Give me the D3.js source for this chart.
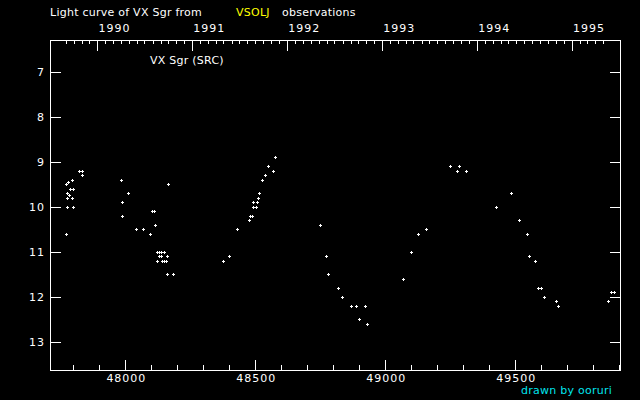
<!DOCTYPE html>
<html lang="en">
<head>
    <meta charset="UTF-8">
    <title>Light curve of VX Sgr</title>
    <style>
        body { margin: 0; background: #000; }
        svg { display: block; background: #000; }
        text { font-family: "DejaVu Sans", sans-serif; font-size: 11px; fill: #fff; letter-spacing: 0.25px; }
        text.num { letter-spacing: 1px; }
    </style>
    <script src="https://d3js.org/d3.v7.min.js"></script>
</head>
<body>
    <svg width="640" height="400"></svg>
    <script>
        // JD - 2400000 and visual magnitude
        const jd = [
            47822, 47834, 47835, 47796, 47771, 47778, 47800, 47788, 47777, 47785,
            47775, 47796, 47777, 47800, 47773,
            47985, 48012, 47988, 47988, 48042, 48069, 48096, 48102, 48109, 48115,
            48165, 48123, 48131, 48138, 48150, 48130, 48137, 48162, 48123, 48142,
            48150, 48158, 48162, 48185,
            48377, 48400, 48431, 48477, 48481, 48488, 48492, 48504, 48492, 48508,
            48512, 48515, 48527, 48538, 48569, 48550, 48577,
            48750, 48773, 48781, 48819, 48835, 48869, 48888, 48923, 48900, 48931,
            49069, 49100, 49127, 49158, 49250, 49285, 49277, 49312,
            49427, 49485, 49515, 49546, 49554, 49577, 49588, 49600, 49612, 49658,
            49665,
            49858, 49869, 49881
        ];
        const mag = [
            9.2, 9.2, 9.3, 9.4, 9.5, 9.45, 9.6, 9.6, 9.7, 9.75,
            9.8, 9.8, 10.0, 10.0, 10.6,
            9.4, 9.7, 9.9, 10.2, 10.5, 10.5, 10.6, 10.1, 10.1, 10.4,
            9.5, 11.0, 11.0, 11.0, 11.0, 11.1, 11.1, 11.1, 11.2, 11.2,
            11.2, 11.2, 11.5, 11.5,
            11.2, 11.1, 10.5, 10.3, 10.2, 10.2, 10.0, 10.0, 9.9, 9.9,
            9.8, 9.7, 9.4, 9.3, 9.2, 9.1, 8.9,
            10.4, 11.1, 11.5, 11.8, 12.0, 12.2, 12.2, 12.2, 12.5, 12.6,
            11.6, 11.0, 10.6, 10.5, 9.1, 9.1, 9.2, 9.2,
            10.0, 9.7, 10.3, 10.6, 11.1, 11.2, 11.8, 11.8, 12.0, 12.1,
            12.2,
            12.1, 11.9, 11.9
        ];
        const magTicks = [7, 8, 9, 10, 11, 12, 13];
        const jdTicks = [48000, 48500, 49000, 49500];
        const years = [1990, 1991, 1992, 1993, 1994, 1995];

        const svg = d3.select("svg");
        const m = { left: 50, right: 620, top: 40, bottom: 370 };

        const x = d3.scaleLinear().domain([47710, 49903]).range([m.left, m.right]);
        const y = d3.scaleLinear().domain([6.3, 13.63]).range([m.top, m.bottom]);

        // date -> JD - 2400000
        const toJD = d => d.getTime() / 86400000 + 40587.5;

        const g = svg.append("g").attr("shape-rendering", "crispEdges");

        g.append("rect")
            .attr("x", m.left + 0.5).attr("y", m.top + 0.5)
            .attr("width", m.right - m.left).attr("height", m.bottom - m.top)
            .attr("fill", "none").attr("stroke", "#fff");

        // bottom axis: minor every 100 days, major every 500
        const minorJD = d3.range(47800, 49901, 100);
        g.selectAll(".bx").data(minorJD).enter().append("line")
            .attr("x1", d => Math.round(x(d)) + 0.5).attr("x2", d => Math.round(x(d)) + 0.5)
            .attr("y1", m.bottom).attr("y2", d => d % 500 === 0 ? m.bottom - 10 : m.bottom - 5)
            .attr("stroke", "#fff");
        svg.selectAll(".bl").data(jdTicks).enter().append("text")
            .attr("class", "num")
            .attr("x", d => x(d) + 1).attr("y", 382)
            .attr("text-anchor", "middle")
            .text(d => d);

        // left and right magnitude ticks
        magTicks.forEach(t => {
            const yy = Math.round(y(t)) + 0.5;
            g.append("line").attr("x1", m.left).attr("x2", m.left + 11).attr("y1", yy).attr("y2", yy).attr("stroke", "#fff");
            g.append("line").attr("x1", m.right - 10).attr("x2", m.right).attr("y1", yy).attr("y2", yy).attr("stroke", "#fff");
        });
        svg.selectAll(".yl").data(magTicks).enter().append("text")
            .attr("class", "num")
            .attr("x", 45).attr("y", d => y(d) + 4)
            .attr("text-anchor", "end")
            .text(d => d);

        // top axis: calendar years with monthly ticks
        const months = d3.utcMonth.range(new Date(Date.UTC(1989, 8, 1)), new Date(Date.UTC(1995, 5, 1)))
            .filter(d => x(toJD(d)) > m.left && x(toJD(d)) < m.right);
        g.selectAll(".tx").data(months).enter().append("line")
            .attr("x1", d => Math.round(x(toJD(d))) + 0.5).attr("x2", d => Math.round(x(toJD(d))) + 0.5)
            .attr("y1", m.top).attr("y2", d => d.getUTCMonth() === 0 ? m.top + 11 : m.top + 4)
            .attr("stroke", "#fff");
        svg.selectAll(".yr").data(years).enter().append("text")
            .attr("class", "num")
            .attr("x", d => x(toJD(new Date(Date.UTC(d, 0, 1)))) + 1).attr("y", 32)
            .text(d => d);

        // observations
        const pts = jd.map((d, i) => ({ jd: d, mag: mag[i] }));
        g.selectAll(".pt").data(pts).enter().append("path")
            .attr("d", d => {
                const px = Math.round(x(d.jd)), py = Math.round(y(d.mag));
                return `M${px - 1},${py + 0.5}h3M${px + 0.5},${py - 1}v3`;
            })
            .attr("stroke", "#fff");

        // titles
        svg.append("text").attr("x", 50).attr("y", 16).text("Light curve of VX Sgr from");
        svg.append("text").attr("x", 236).attr("y", 16).style("fill", "#ffff00").text("VSOLJ");
        svg.append("text").attr("x", 282).attr("y", 16).text("observations");
        svg.append("text").attr("x", 150).attr("y", 64).text("VX Sgr (SRC)");
        svg.append("text").attr("x", 521).attr("y", 394).style("fill", "#00e5ee").text("drawn by ooruri");
    </script>
</body>
</html>
